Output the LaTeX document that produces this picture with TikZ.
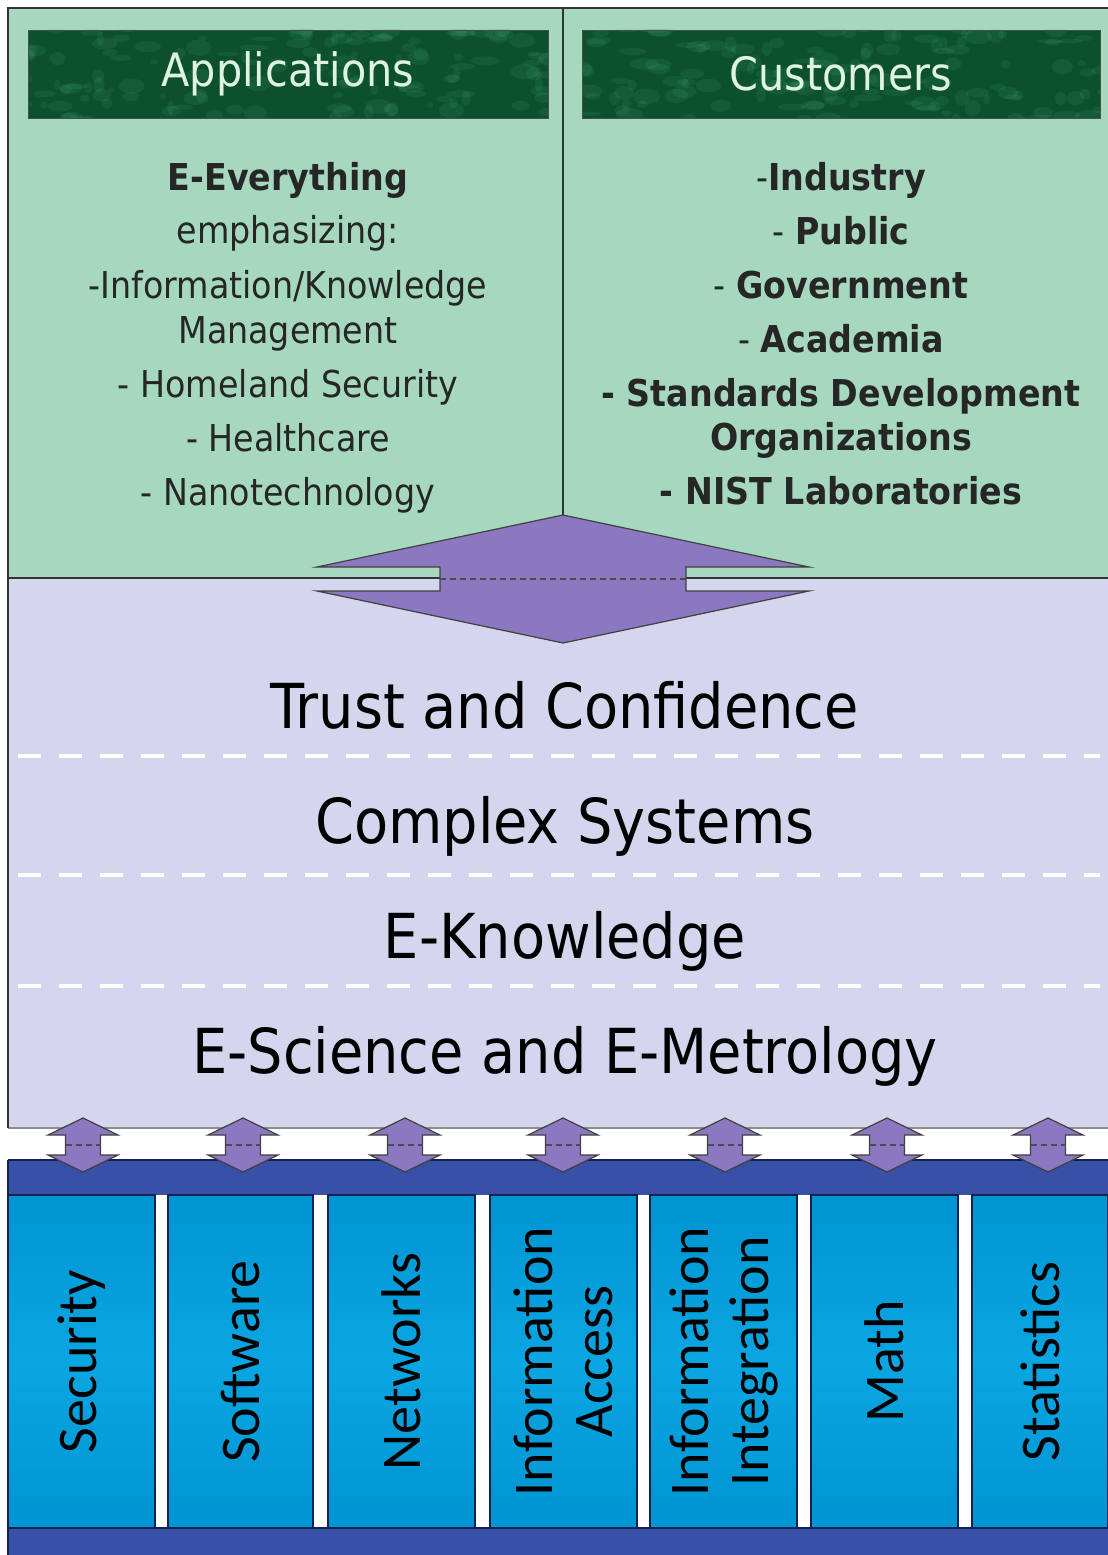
\documentclass[tikz,border=0pt]{standalone}
\usepackage{fontspec}
\setmainfont{DejaVu Sans Condensed}
\newfontfamily\colfont{Carlito}
\usetikzlibrary{positioning}

\definecolor{panelgreen}{RGB}{166,216,192}
\definecolor{headgreen}{RGB}{12,80,46}
\definecolor{headlight}{RGB}{70,170,120}
\definecolor{headtext}{RGB}{222,242,230}
\definecolor{layerlav}{RGB}{212,214,238}
\definecolor{arrowpurple}{RGB}{140,120,192}
\definecolor{colblue}{RGB}{10,166,226}
\definecolor{colbluedark}{RGB}{0,148,210}
\definecolor{bandblue}{RGB}{56,80,166}
\definecolor{navyline}{RGB}{18,34,80}

\tikzset{
  frameline/.style={draw=black!80,line width=1.6pt},
  headbox/.style={draw=black!70,fill=headgreen,text=headtext,minimum width=520pt,minimum height=88pt,inner sep=0pt,
    font=\fontsize{46}{50}\selectfont,
    path picture={\foreach \k in {1,...,140}{\fill[headlight,opacity=0.14] (path picture bounding box.center) ++({rand*270},{rand*46}) ellipse ({3+12*rnd} and {2+6*rnd});}}},
  itemtext/.style={anchor=base,text=black!85,font=\fontsize{37}{40}\selectfont,inner sep=0pt},
  layertext/.style={anchor=base,text=black,font=\fontsize{62}{66}\selectfont,inner sep=0pt},
  layersep/.style={draw=white,line width=4pt,dash pattern=on 23pt off 18pt},
  arrowshape/.style={draw=black!75,fill=arrowpurple,line width=1.2pt,line join=miter},
  arrowmid/.style={draw=black!70,line width=1.2pt,dash pattern=on 6pt off 4pt},
  colbox/.style={draw=navyline,line width=1.2pt,top color=colbluedark,bottom color=colbluedark,middle color=colblue,minimum height=333pt,inner sep=0pt},
  coltext/.style={rotate=90,align=center,text=black,font=\colfont\fontsize{56}{60}\selectfont,inner sep=0pt}
}

% double-headed block arrow: centre x, centre y, half head width, half shaft width, head length, half shaft length
\newcommand{\twowayarrow}[6]{%
  \draw[arrowshape] (#1,#2-#6-#5) -- (#1+#3,#2-#6) -- (#1+#4,#2-#6) -- (#1+#4,#2+#6) -- (#1+#3,#2+#6)
    -- (#1,#2+#6+#5) -- (#1-#3,#2+#6) -- (#1-#4,#2+#6) -- (#1-#4,#2-#6) -- (#1-#3,#2-#6) -- cycle;
  \draw[arrowmid] (#1-#4,#2) -- (#1+#4,#2);
}

\begin{document}
\begin{tikzpicture}[x=1pt,y=-1pt]
\useasboundingbox[fill=white] (0,0) rectangle (1108,1555);
\pgfmathsetseed{11}

% upper panel
\fill[panelgreen] (8,8) rectangle (1108,578);
\draw[frameline] (8,1128) -- (8,8) -- (1108,8);
\draw[frameline] (563,8) -- (563,515);
\node[headbox] (apphead) at (288,74) {Applications};
\node[headbox,minimum width=518pt] (custhead) at (841,74) {Customers};

\node[itemtext] (ee) at (288,190) {\textbf{E-Everything}};
\node[itemtext] (emph) at (288,243) {emphasizing:};
\node[itemtext] (infok) at (288,298) {-Information/Knowledge};
\node[itemtext] (mgmt) at (288,343) {Management};
\node[itemtext] (homeland) at (288,397) {- Homeland Security};
\node[itemtext] (health) at (288,451) {- Healthcare};
\node[itemtext] (nano) at (288,505) {- Nanotechnology};

\node[itemtext] (industry) at (841,190) {-\textbf{Industry}};
\node[itemtext] (public) at (841,244) {- \textbf{Public}};
\node[itemtext] (govt) at (841,298) {- \textbf{Government}};
\node[itemtext] (acad) at (841,352) {- \textbf{Academia}};
\node[itemtext] (sdo) at (841,406) {\textbf{- Standards Development}};
\node[itemtext] (orgs) at (841,450) {\textbf{Organizations}};
\node[itemtext] (nist) at (841,504) {\textbf{- NIST Laboratories}};

% layer stack
\fill[layerlav] (8,578) rectangle (1108,1128);
\draw[frameline] (8,578) -- (1108,578);
\draw[draw=black!45,line width=2pt] (8,1128) -- (1108,1128);
\draw[frameline] (8,578) -- (8,1128);
\foreach \y in {756,875,986}
  \draw[layersep] (18,\y) -- (1100,\y);

\node[layertext] (trust) at (565,728) {Trust and Confidence};
\node[layertext] (complex) at (565,843) {Complex Systems};
\node[layertext] (eknow) at (565,958) {E-Knowledge};
\node[layertext] (escience) at (565,1073) {E-Science and E-Metrology};

\twowayarrow{563}{579}{246}{123}{52}{12}

% foundation columns
\fill[bandblue] (8,1160) rectangle (1108,1195);
\fill[bandblue] (8,1528) rectangle (1108,1555);
\draw[navyline,line width=1.2pt] (8,1160) -- (1108,1160);
\draw[navyline,line width=1.2pt] (8,1528) -- (1108,1528);
\draw[navyline,line width=1.6pt] (8,1160) -- (8,1555);

\foreach \cx/\w/\name/\txt in {81.5/147/security/Security,240.5/145/software/Software,401.5/147/networks/Networks,
    563.5/147/access/{Information\\Access},723.5/147/integ/{Information\\Integration},884.5/147/math/Math,1040/136/stats/Statistics}{
  \node[colbox,minimum width=\w pt] (col-\name) at (\cx,1361.5) {};
  \node[coltext] (lbl-\name) at (col-\name.center) {\txt};
}

\foreach \ax in {83,243,405,563,725,887,1048}{
  \twowayarrow{\ax}{1145}{35}{17.5}{17}{10}
}
\end{tikzpicture}
\end{document}
